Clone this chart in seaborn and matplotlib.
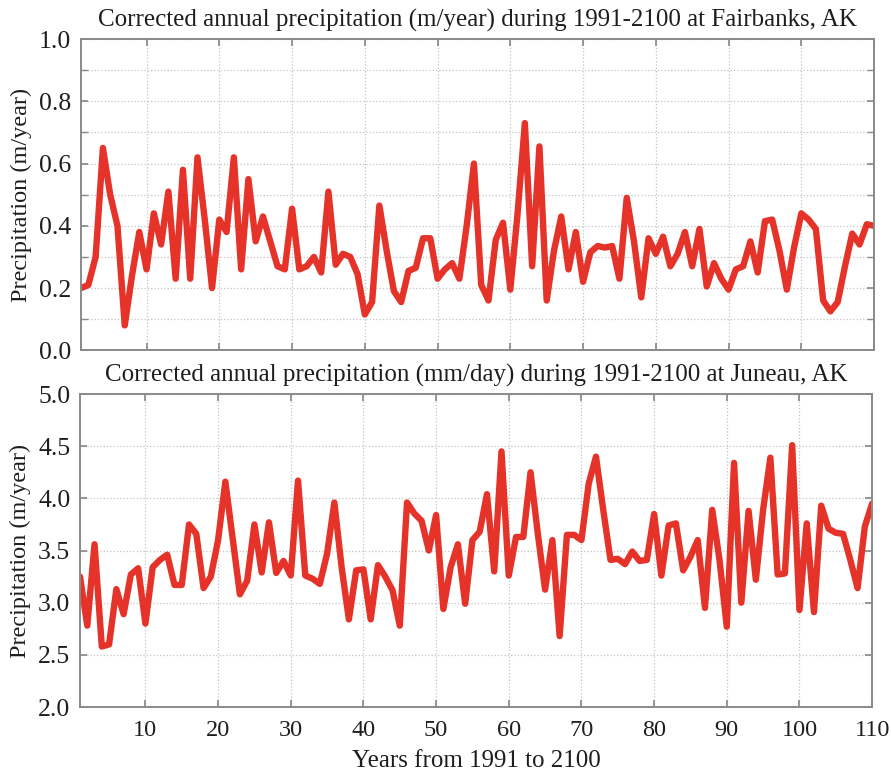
import numpy as np
import pandas as pd
import matplotlib
matplotlib.use("Agg")
import matplotlib.pyplot as plt
from matplotlib.ticker import MultipleLocator, FormatStrFormatter
import seaborn as sns

years = list(range(1, 111))

fairbanks = [
    0.20, 0.21, 0.30, 0.65, 0.50, 0.40, 0.08, 0.24, 0.38, 0.26,
    0.44, 0.34, 0.51, 0.23, 0.58, 0.23, 0.62, 0.42, 0.20, 0.42,
    0.38, 0.62, 0.26, 0.55, 0.35, 0.43, 0.35, 0.27, 0.26, 0.455,
    0.26, 0.27, 0.30, 0.25, 0.51, 0.275, 0.31, 0.30, 0.245, 0.115,
    0.155, 0.465, 0.32, 0.19, 0.155, 0.255, 0.265, 0.36, 0.36, 0.23,
    0.26, 0.28, 0.23, 0.40, 0.60, 0.21, 0.16, 0.355, 0.41, 0.195,
    0.44, 0.73, 0.27, 0.655, 0.16, 0.32, 0.43, 0.26, 0.38, 0.22,
    0.315, 0.335, 0.33, 0.335, 0.23, 0.49, 0.35, 0.17, 0.36, 0.31,
    0.365, 0.27, 0.31, 0.38, 0.27, 0.39, 0.205, 0.28, 0.23, 0.195,
    0.26, 0.27, 0.35, 0.25, 0.415, 0.42, 0.32, 0.195, 0.33, 0.44,
    0.42, 0.39, 0.16, 0.125, 0.155, 0.27, 0.375, 0.34, 0.405, 0.40,
]

juneau = [
    3.25, 2.78, 3.56, 2.58, 2.60, 3.13, 2.89, 3.27, 3.33, 2.80,
    3.34, 3.41, 3.46, 3.17, 3.17, 3.75, 3.66, 3.14, 3.25, 3.60,
    4.16, 3.62, 3.08, 3.21, 3.75, 3.29, 3.77, 3.285, 3.40, 3.26,
    4.17, 3.26, 3.23, 3.18, 3.47, 3.96, 3.34, 2.84, 3.31, 3.32,
    2.84, 3.36, 3.25, 3.12, 2.78, 3.96, 3.855, 3.785, 3.50, 3.84,
    2.94, 3.34, 3.56, 2.99, 3.60, 3.68, 4.04, 3.30, 4.45, 3.26,
    3.63, 3.63, 4.25, 3.66, 3.125, 3.60, 2.68, 3.65, 3.65, 3.60,
    4.14, 4.40, 3.89, 3.41, 3.42, 3.37, 3.49, 3.40, 3.41, 3.85,
    3.26, 3.74, 3.76, 3.31, 3.44, 3.60, 2.95, 3.89, 3.41, 2.77,
    4.34, 3.00, 3.88, 3.22, 3.89, 4.39, 3.27, 3.28, 4.51, 2.93,
    3.76, 2.91, 3.93, 3.71, 3.67, 3.66, 3.41, 3.14, 3.73, 3.95,
]

title_top = "Corrected annual precipitation (m/year) during 1991-2100 at Fairbanks, AK"
title_bot = "Corrected annual precipitation (mm/day) during 1991-2100 at Juneau, AK"
ylabel = "Precipitation (m/year)"
xlabel = "Years from 1991 to 2100"
xticks = [10, 20, 30, 40, 50, 60, 70, 80, 90, 100, 110]

sns.set_theme(style="white")
plt.rcParams["font.family"] = ["Liberation Serif", "DejaVu Serif"]

LINE = "#e5332a"
SPINE = "#8a8a8a"
TXT = "#1e1e1e"
FS_TICK = 18.5
FS_XTICK = 17.5
FS_TITLE = 18
FS_LABEL = 17.5

fig = plt.figure(figsize=(8.91, 7.75), dpi=100)
ax1 = fig.add_axes([0.0910, 0.548, 0.890, 0.4016])
ax2 = fig.add_axes([0.0898, 0.0877, 0.889, 0.4039])

df1 = pd.DataFrame({"year": years, "value": fairbanks})
df2 = pd.DataFrame({"year": years, "value": juneau})

sns.lineplot(data=df1, x="year", y="value", ax=ax1, color=LINE, linewidth=4.6)
sns.lineplot(data=df2, x="year", y="value", ax=ax2, color=LINE, linewidth=4.6)


def style(ax, ylim, major, minor):
    ax.set_xlim(1, 110)
    ax.set_ylim(*ylim)
    ax.set_xticks(xticks)
    ax.yaxis.set_major_locator(MultipleLocator(major))
    ax.yaxis.set_minor_locator(MultipleLocator(minor))
    ax.yaxis.set_major_formatter(FormatStrFormatter("%.1f"))
    ax.grid(True, which="both", axis="y", linestyle=":", color="#c4c4c4", linewidth=0.9)
    ax.grid(True, which="major", axis="x", linestyle=":", color="#c4c4c4", linewidth=0.9)
    ax.set_axisbelow(True)
    for s in ax.spines.values():
        s.set_color(SPINE)
        s.set_linewidth(1.4)
    ax.tick_params(which="both", direction="in", top=True, right=True,
                   bottom=True, left=True, color=SPINE, labelcolor=TXT, length=5)
    ax.tick_params(axis="y", pad=7, labelsize=FS_TICK)
    ax.tick_params(axis="x", pad=9, labelsize=FS_XTICK)
    ax.set_ylabel(ylabel, fontsize=FS_LABEL, color=TXT)
    ax.yaxis.set_label_coords(-0.062, 0.5)


style(ax1, (0.0, 1.0), 0.2, 0.1)
style(ax2, (2.0, 5.0), 0.5, 0.5)

ax1.tick_params(labelbottom=False)
ax1.set_xlabel("")
ax2.set_xlabel(xlabel, fontsize=FS_TITLE, color=TXT, labelpad=7)

ax1.set_title(title_top, fontsize=FS_TITLE, color=TXT, pad=9)
ax2.set_title(title_bot, fontsize=FS_TITLE, color=TXT, pad=9)

fig.savefig("out.png", dpi=100, facecolor="white")
